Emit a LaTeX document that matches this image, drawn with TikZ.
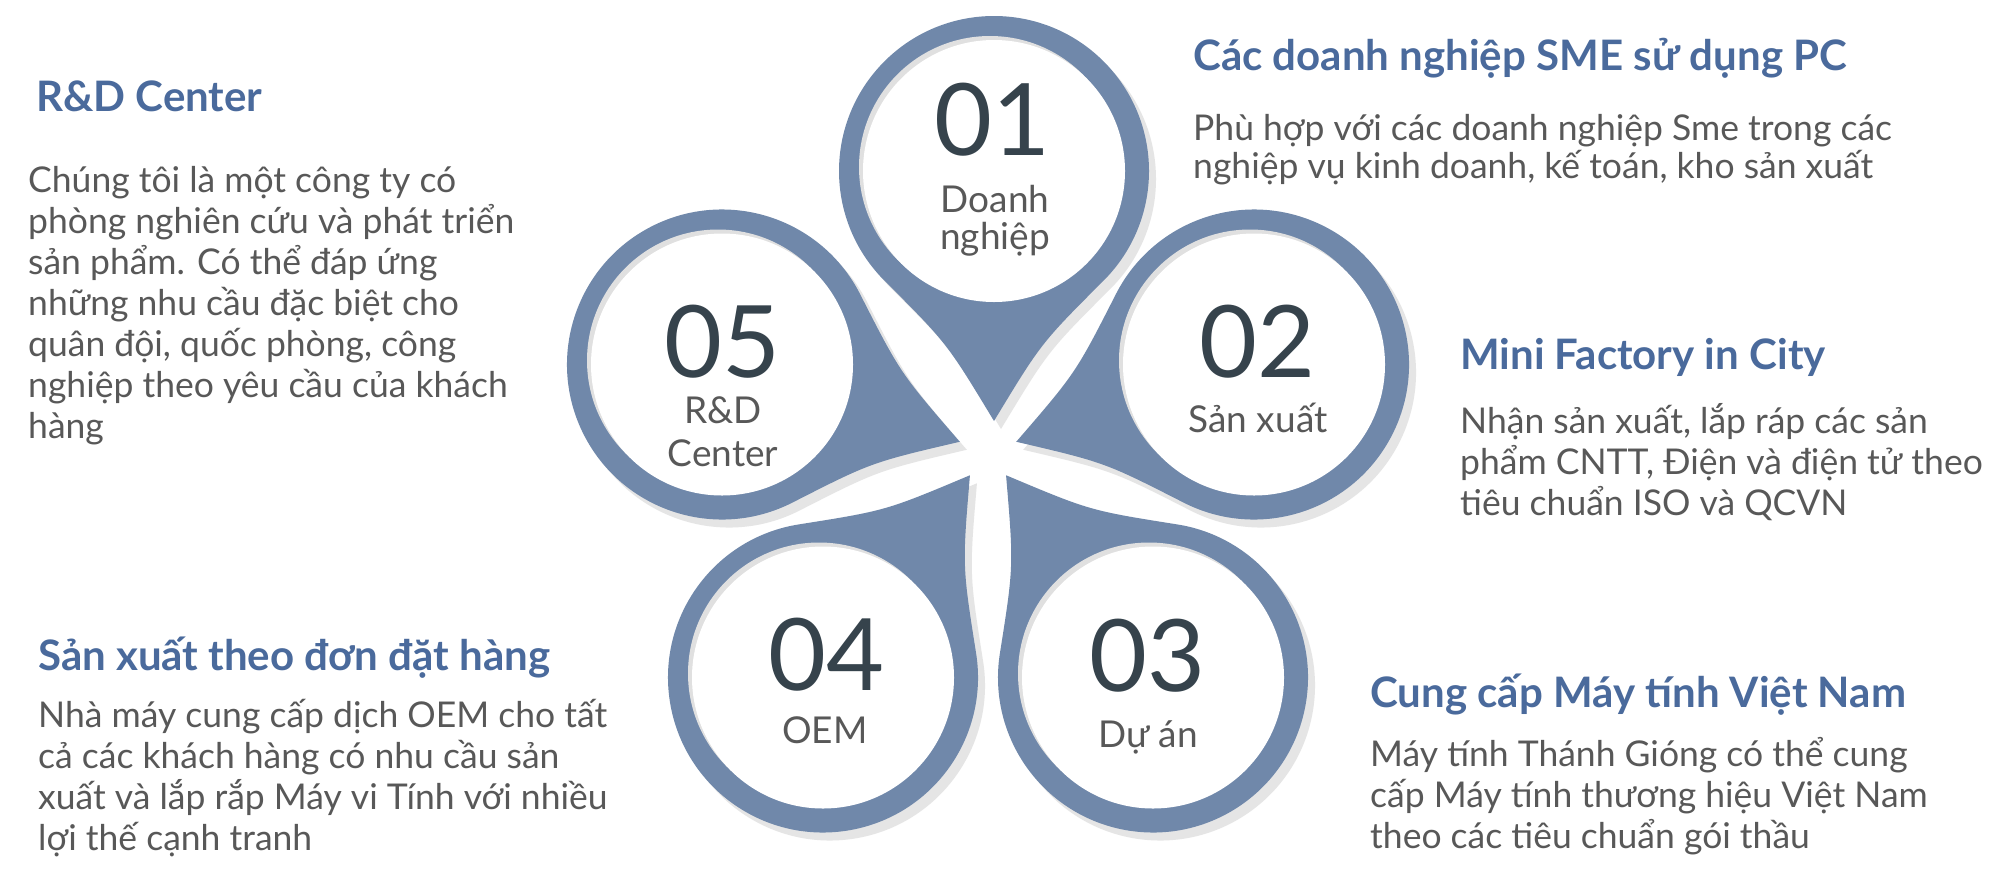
\documentclass[tikz,border=0pt]{standalone}
\usepackage{fontspec}
\setmainfont{Lato}
\definecolor{petalblue}{HTML}{7088AA}
\definecolor{petalshadow}{HTML}{E5E5E5}
\definecolor{innershade}{HTML}{E0E0E0}
\definecolor{titleblue}{HTML}{4A6A9C}
\definecolor{bodygray}{HTML}{585858}
\definecolor{numdark}{HTML}{36434C}
\tikzset{
  pics/drop/.style={code={%
    \path[pic actions] (109.6,109.6) arc[start angle=45, end angle=315, radius=155]
      .. controls (172.1,-47.1) .. (250,0)
      .. controls (172.1,47.1) .. (109.6,109.6) -- cycle;}},
  petalfill/.style={fill=petalblue},
  shadowfill/.style={fill=petalshadow},
  numtext/.style={font=\fontsize{100}{100}\selectfont, text=numdark, inner sep=0pt},
  labeltext/.style={font=\fontsize{37}{37}\selectfont, text=bodygray, align=center, inner sep=0pt, anchor=base},
  labeltextwide/.style={labeltext, font=\fontsize{37}{43}\selectfont},
  headtext/.style={font=\fontsize{42}{42}\selectfont\bfseries, text=titleblue, inner sep=0pt, anchor=base west},
  bodytext/.style={font=\fontsize{35.5}{41}\selectfont, text=bodygray, inner sep=0pt, align=left, anchor=base west},
  bodytextnarrow/.style={bodytext, font=\fontsize{35.5}{38}\selectfont},
}
\begin{document}
\begin{tikzpicture}[x=1pt,y=-1pt]
\useasboundingbox (0,0) rectangle (1994,876);
\fill[white] (0,0) rectangle (1994,876);
% shadows
\foreach \cx/\cy/\ang in {994/171/-90, 1254/364.5/198, 1153/677.5/126, 823/677.5/54, 722/364.5/-18}{
  \pic[shadowfill, rotate=\ang] at (\cx+7,\cy+8) {drop};
}
% petals
\foreach \cx/\cy/\ang in {994/171/-90, 1254/364.5/198, 1153/677.5/126, 823/677.5/54, 722/364.5/-18}{
  \pic[petalfill, rotate=\ang] at (\cx,\cy) {drop};
  \fill[innershade] (\cx-4,\cy-4) circle[radius=131];
  \fill[white] (\cx,\cy) circle[radius=131];
}
% numbers and labels
\node[numtext] (n1) at (992,120) {01};
\node[labeltext] (l1) at (995,249) {Doanh\\nghiệp};
\node[numtext] (n2) at (1257,342) {02};
\node[labeltext] (l2) at (1258,432) {Sản xuất};
\node[numtext] (n3) at (1147,656) {03};
\node[labeltext] (l3) at (1148,747) {Dự án};
\node[numtext] (n4) at (826,655) {04};
\node[labeltext] (l4) at (825,743) {OEM};
\node[numtext] (n5) at (722,342) {05};
\node[labeltextwide] (l5) at (723,466) {R\&D\\Center};
% text blocks
\node[headtext] (h1) at (1193,70) {Các doanh nghiệp SME sử dụng PC};
\node[bodytextnarrow] (b1) at (1193,178) {Phù hợp với các doanh nghiệp Sme trong các\\nghiệp vụ kinh doanh, kế toán, kho sản xuất};
\node[headtext] (h2) at (1460,369) {Mini Factory in City};
\node[bodytext] (b2) at (1460,515) {Nhận sản xuất, lắp ráp các sản\\phẩm CNTT, Điện và điện tử theo\\tiêu chuẩn ISO và QCVN};
\node[headtext] (h3) at (1370,707) {Cung cấp Máy tính Việt Nam};
\node[bodytext] (b3) at (1370,848) {Máy tính Thánh Gióng có thể cung\\cấp Máy tính thương hiệu Việt Nam\\theo các tiêu chuẩn gói thầu};
\node[headtext] (h4) at (38,670) {Sản xuất theo đơn đặt hàng};
\node[bodytext] (b4) at (38,850) {Nhà máy cung cấp dịch OEM cho tất\\cả các khách hàng có nhu cầu sản\\xuất và lắp rắp Máy vi Tính với nhiều\\lợi thế cạnh tranh};
\node[headtext] (h5) at (36,111) {R\&D Center};
\node[bodytext] (b5) at (28,438) {Chúng tôi là một công ty có\\phòng nghiên cứu và phát triển\\sản phẩm. Có thể đáp ứng\\những nhu cầu đặc biệt cho\\quân đội, quốc phòng, công\\nghiệp theo yêu cầu của khách\\hàng};
\end{tikzpicture}
\end{document}
